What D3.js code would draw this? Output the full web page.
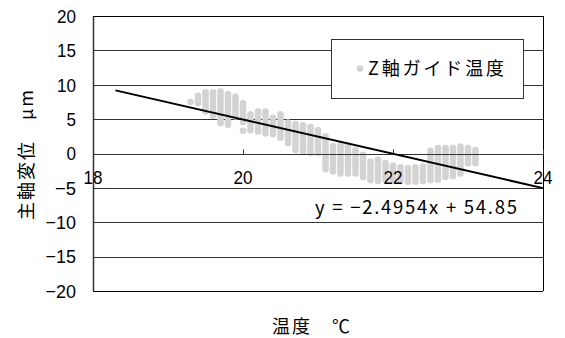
<!DOCTYPE html>
<html>
<head>
<meta charset="utf-8">
<script src="https://cdn.jsdelivr.net/npm/d3@7"></script>
<style>
  html, body { margin: 0; padding: 0; background: #fff; }
  svg { display: block; }
</style>
</head>
<body>
<svg id="chart" width="565" height="338"></svg>
<script>
// Spindle displacement (µm) measured against Z-axis guide temperature (°C)
const columnTemps = [19.3, 19.4, 19.5, 19.6, 19.7, 19.8, 19.9, 20.0, 20.1, 20.2,
                     20.3, 20.4, 20.5, 20.6, 20.7, 20.8, 20.9, 21.0, 21.1, 21.2,
                     21.3, 21.4, 21.5, 21.6, 21.7, 21.8, 21.9, 22.0, 22.1, 22.2,
                     22.3, 22.4, 22.5, 22.6, 22.7, 22.8, 22.9, 23.0, 23.1];
const columnValues = [
  [7.5],
  [7.3, 7.8, 8.4],
  [6.1, 6.6, 7.1, 7.6, 8.1, 8.5, 8.9],
  [5.5, 6.0, 6.5, 7.0, 7.5, 8.0, 8.5, 8.9],
  [4.4, 4.9, 5.4, 5.9, 6.4, 6.9, 7.4, 7.9, 8.4, 9.0],
  [4.2, 4.7, 5.2, 5.7, 6.2, 6.7, 7.2, 7.7, 8.2, 8.6],
  [5.4, 5.9, 6.4, 6.9, 7.4, 7.9, 8.3],
  [3.3, 4.6, 5.1, 5.6, 6.1, 6.6, 7.0, 7.3],
  [3.4, 3.9, 4.4, 4.9, 5.3, 5.7],
  [3.2, 3.7, 4.2, 4.7, 5.2, 5.7, 6.1],
  [2.9, 3.4, 3.9, 4.4, 4.9, 5.4, 5.8, 6.1],
  [2.8, 3.3, 3.8, 4.3, 4.8, 5.2],
  [2.3, 2.8, 3.3, 3.8, 4.3, 4.8, 5.3, 5.7],
  [1.5, 2.0, 2.5, 3.0, 3.5, 4.0, 4.5],
  [0.5, 1.0, 1.5, 2.0, 2.5, 3.0, 3.5, 3.9, 4.3],
  [0.3, 0.8, 1.3, 1.8, 2.3, 2.8, 3.3, 3.7, 4.1],
  [0.1, 0.6, 1.1, 1.6, 2.1, 2.6, 3.1, 3.5, 3.9],
  [0.1, 0.6, 1.1, 1.6, 2.1, 2.6, 3.0, 3.4],
  [-2.3, -1.8, -1.3, -0.8, -0.3, 0.2, 0.7, 1.2, 1.7, 2.1, 2.5],
  [-2.6, -2.1, -1.6, -1.1, -0.6, -0.1, 0.4, 0.8, 1.1],
  [-2.9, -2.4, -1.9, -1.4, -0.9, -0.4, 0.1, 0.6, 1.0, 1.2],
  [-2.9, -2.4, -1.9, -1.4, -0.9, -0.4, 0.1, 0.6, 1.0, 1.2],
  [-2.9, -2.4, -1.9, -1.4, -0.9, -0.4, 0.1, 0.5],
  [-3.4, -2.9, -2.4, -1.9, -1.4, -0.9, -0.5, -0.2],
  [-3.9, -3.4, -2.9, -2.4, -1.9, -1.5, -1.2],
  [-4.0, -3.5, -3.0, -2.5, -2.0, -1.5, -1.2, -0.9],
  [-3.9, -3.4, -2.9, -2.4, -1.9, -1.4],
  [-3.8, -3.3, -2.8, -2.3, -1.8],
  [-4.0, -3.5, -3.0, -2.5, -2.0],
  [-4.1, -3.6, -3.1, -2.6, -2.1],
  [-4.1, -3.6, -3.1, -2.6, -2.0],
  [-4.0, -3.5, -3.0, -2.5, -1.9],
  [-3.9, -3.4, -2.9, -2.4, -1.9, -1.4, -0.9, -0.4, 0.0, 0.4],
  [-3.8, -3.3, -2.8, -2.3, -1.8, -1.3, -0.8, -0.3, 0.2, 0.8],
  [-3.4, -2.9, -2.4, -1.9, -1.4, -0.9, -0.4, 0.1, 0.5, 0.8],
  [-3.3, -2.8, -2.3, -1.8, -1.3, -0.8, -0.3, 0.2, 0.5, 0.8],
  [-2.9, -2.4, -1.9, -1.4, -0.9, -0.4, 0.1, 0.6, 1.0],
  [-1.4, -0.9, -0.4, 0.1, 0.5, 0.8],
  [-1.4, -0.9, -0.4, 0.1, 0.5]
];

// Linear trend line y = slope * x + intercept
const trendSlope = -2.4954;
const trendIntercept = 54.85;
const trendRange = [18.3, 24];

const xTicks = [18, 20, 22, 24];
const yTicks = [-20, -15, -10, -5, 0, 5, 10, 15, 20];

const seriesName = "Z軸ガイド温度";
const equationText = "y = −2.4954x + 54.85";
const xTitle = "温度　℃";
const yTitle = "主軸変位　μm";

const points = columnTemps.flatMap((t, i) => columnValues[i].map(v => ({ t, v })));

const svg = d3.select("#chart");
const plot = { left: 93, right: 543, top: 16, bottom: 291 };

const x = d3.scaleLinear().domain([18, 24]).range([plot.left, plot.right]);
const y = d3.scaleLinear().domain([-20, 20]).range([plot.bottom, plot.top]);

const numFont = "'Liberation Sans', Arial, sans-serif";
const cjkFont = "'Noto Sans CJK JP', sans-serif";
const fmt = d => (d < 0 ? "−" + Math.abs(d) : String(d));
// Narrow tick-label look: squeeze glyphs to a fixed advance per character
const labelWidth = d => String(Math.abs(d)).length * 9.5 + (d < 0 ? 11.5 : 0);

// Horizontal gridlines
svg.append("g")
  .selectAll("line")
  .data(yTicks)
  .join("line")
  .attr("x1", plot.left).attr("x2", plot.right)
  .attr("y1", d => Math.round(y(d)) + 0.5).attr("y2", d => Math.round(y(d)) + 0.5)
  .attr("stroke", d => (d === 20 || d === -20) ? "#000" : "#333")
  .attr("stroke-width", 1);

// Right edge of the plot frame
svg.append("line")
  .attr("x1", plot.right + 0.5).attr("x2", plot.right + 0.5)
  .attr("y1", y(20)).attr("y2", y(-20))
  .attr("stroke", "#000");

// Y axis line and labels
svg.append("line")
  .attr("x1", plot.left + 0.5).attr("x2", plot.left + 0.5)
  .attr("y1", y(20)).attr("y2", y(-20))
  .attr("stroke", "#333").attr("stroke-width", 1.5);

svg.append("g")
  .selectAll("text")
  .data(yTicks)
  .join("text")
  .attr("x", 76)
  .attr("y", d => y(d))
  .attr("dy", "0.36em")
  .attr("text-anchor", "end")
  .attr("font-family", numFont)
  .attr("font-size", 19)
  .attr("textLength", labelWidth)
  .attr("lengthAdjust", "spacingAndGlyphs")
  .attr("fill", "#000")
  .text(fmt);

// Scatter points
svg.append("g")
  .selectAll("circle")
  .data(points)
  .join("circle")
  .attr("cx", d => x(d.t))
  .attr("cy", d => y(d.v))
  .attr("r", 3.3)
  .attr("fill", "#d3d3d3");

// X axis crossing at y = 0 with inward ticks
const xAxis = svg.append("g").attr("transform", `translate(0,${Math.round(y(0)) + 0.5})`);
xAxis.append("line")
  .attr("x1", plot.left).attr("x2", plot.right)
  .attr("stroke", "#333");
xAxis.selectAll("line.tick")
  .data(xTicks)
  .join("line")
  .attr("class", "tick")
  .attr("x1", d => Math.round(x(d)) + 0.5).attr("x2", d => Math.round(x(d)) + 0.5)
  .attr("y1", -5).attr("y2", 0)
  .attr("stroke", "#333");
xAxis.selectAll("text")
  .data(xTicks)
  .join("text")
  .attr("x", d => x(d))
  .attr("y", 29)
  .attr("text-anchor", "middle")
  .attr("font-family", numFont)
  .attr("font-size", 19)
  .attr("textLength", labelWidth)
  .attr("lengthAdjust", "spacingAndGlyphs")
  .attr("fill", "#000")
  .text(fmt);

// Trend line
const line = d3.line().x(d => x(d)).y(d => y(trendSlope * d + trendIntercept));
svg.append("path")
  .datum(trendRange)
  .attr("d", line)
  .attr("fill", "none")
  .attr("stroke", "#000")
  .attr("stroke-width", 2);

// Trend line equation
svg.append("text")
  .attr("x", 315).attr("y", 214)
  .attr("font-family", cjkFont)
  .attr("font-size", 18.5)
  .attr("textLength", 202)
  .attr("lengthAdjust", "spacing")
  .attr("fill", "#000")
  .text(equationText);

// Legend
const legend = svg.append("g");
legend.append("rect")
  .attr("x", 331.5).attr("y", 39.5).attr("width", 192).attr("height", 59)
  .attr("fill", "#fff").attr("stroke", "#333");
legend.append("circle")
  .attr("cx", 360).attr("cy", 68.5).attr("r", 3.3).attr("fill", "#d3d3d3");
legend.append("text")
  .attr("x", 368).attr("y", 75)
  .attr("font-family", cjkFont)
  .attr("font-size", 18)
  .attr("textLength", 136)
  .attr("lengthAdjust", "spacing")
  .attr("fill", "#000")
  .text(seriesName);

// Axis titles
svg.append("text")
  .attr("x", 272).attr("y", 333)
  .attr("font-family", cjkFont)
  .attr("font-size", 18)
  .attr("textLength", 78)
  .attr("lengthAdjust", "spacing")
  .attr("fill", "#000")
  .text(xTitle);

svg.append("text")
  .attr("transform", "translate(33,220) rotate(-90)")
  .attr("font-family", cjkFont)
  .attr("font-size", 18)
  .attr("textLength", 130)
  .attr("lengthAdjust", "spacing")
  .attr("fill", "#000")
  .text(yTitle);
</script>
</body>
</html>
